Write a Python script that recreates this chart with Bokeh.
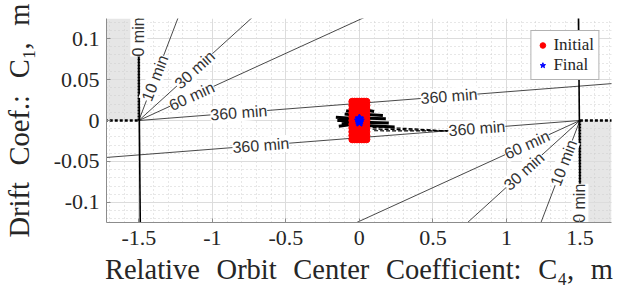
import math
import numpy as np
from bokeh.plotting import figure
from bokeh.models import FixedTicker, CustomJSTickFormatter, Range1d
from bokeh.core.properties import value
from bokeh.embed import file_html
from bokeh.resources import INLINE

# ---- axes / ticks ----
x_ticks = [-1.5, -1, -0.5, 0, 0.5, 1, 1.5]
y_ticks = [-0.1, -0.05, 0, 0.05, 0.1]
x_lim = (-1.72, 1.715)
y_lim = (-0.1245, 0.1245)

# ---- contour lines of constant time (from pivots at C4 = -1.5 and 1.5) ----
pivots = [-1.5, 1.5]
times = [10, 30, 60, 360]
slopes = [0.47, 0.163, 0.082, 0.014]
label_times = [10, 30, 60, 360, 360]
label_x_left = [-1.39, -1.12, -1.14, -0.82, 0.61]
label_x_right = [1.39, 1.12, 1.14, 0.80, -0.67]
zero_label_y = [0.102, -0.101]

# ---- shaded regions ----
shade_left = [-1.72, 1.5]
shade_right = [-1.5, 1.715]
shade_bottom = [0.0, -0.1245]
shade_top = [0.1245, 0.0]

# ---- initial conditions (red) ----
init_x_grid = [-0.048, -0.032, -0.016, 0.0, 0.016, 0.032, 0.048]
init_y_grid = [-0.023, -0.0184, -0.0138, -0.0092, -0.0046, 0.0, 0.0046,
               0.0092, 0.0138, 0.0184, 0.023]
# ---- final states (blue) ----
final_x = [-0.008, -0.004, 0.0, 0.004, 0.008, 0.0, 0.0, -0.004, 0.004]
final_y = [0.0, 0.002, 0.0, -0.002, 0.0, 0.003, -0.003, -0.002, 0.002]

# ---- trajectories (black) ----
streak_xs = [[-0.16, 0.0], [-0.15, 0.02], [-0.12, 0.0], [-0.10, 0.05],
             [-0.14, -0.02], [0.0, 0.18], [0.02, 0.20], [0.05, 0.24],
             [0.0, 0.16], [0.04, 0.10], [-0.09, -0.03]]
streak_ys = [[0.004, 0.002], [0.0, 0.0], [-0.004, -0.002], [0.008, 0.005],
             [-0.007, -0.004], [0.003, 0.002], [-0.002, -0.003], [-0.006, -0.008],
             [0.008, 0.006], [0.013, 0.011], [0.012, 0.010]]
tail_xs = [[0.09, 0.30, 0.55, 0.60], [0.09, 0.30, 0.55, 0.60], [0.10, 0.32, 0.55, 0.60]]
tail_ys = [[-0.0085, -0.0095, -0.0122, -0.0126], [-0.0105, -0.0112, -0.0124, -0.0126],
           [-0.0125, -0.0127, -0.0127, -0.0126]]
tick_y_left = [0.104, 0.108, 0.112, 0.116, 0.120]
tick_y_right = [-0.082, -0.088, -0.094, -0.100, -0.106]

FW, FH = 505, 204
SERIF = "Liberation Serif"
SANS = "Liberation Sans"
GAP = "\u00a0\u00a0\u200a"

p = figure(frame_width=FW, frame_height=FH, output_backend="svg", toolbar_location=None,
           x_range=Range1d(*x_lim), y_range=Range1d(*y_lim),
           min_border_left=104, min_border_top=18, min_border_right=2, min_border_bottom=10)
p.outline_line_color = None
p.background_fill_color = "white"

# shaded areas under grid
p.quad(left=shade_left, right=shade_right, bottom=shade_bottom, top=shade_top,
       fill_color="#e6e6e6", line_color=None, level="image")

ppx = FW / (x_lim[1] - x_lim[0])
ppy = FH / (y_lim[1] - y_lim[0])

# contour lines
for piv, sgn in zip(pivots, [1, -1]):
    for s in slopes:
        xe = piv + sgn * 4.0
        p.line([piv, xe], [0.0, s * (xe - piv)], line_color="#1a1a1a", line_width=0.8)

# labels on contour lines
slope_of = dict(zip(times, slopes))
lx, ly, lt, la = [], [], [], []
for piv, xs in zip(pivots, [label_x_left, label_x_right]):
    for t, x in zip(label_times, xs):
        s = slope_of[t]
        lx.append(x)
        ly.append(s * (x - piv))
        lt.append(f"{t} min")
        la.append(math.atan(s * ppy / ppx))
for piv, yz in zip(pivots, zero_label_y):
    lx.append(piv); ly.append(yz); lt.append("0 min"); la.append(math.pi / 2)

# vertical / horizontal boundary lines
p.line([-1.503, -1.49], [0.13, -0.13], line_color="black", line_width=1.6)
p.line([1.49, 1.503], [0.13, -0.13], line_color="black", line_width=1.6)
p.line([-1.5, -1.5], [0.0, 0.13], line_color="black", line_width=2.6, line_dash="2 1")
p.line([-1.8, -1.5], [0.0, 0.0], line_color="black", line_width=2.6, line_dash="3 2")
p.line([1.5, 1.5], [0.0, -0.13], line_color="black", line_width=2.6, line_dash="2 1")
p.line([1.5, 1.8], [0.0, 0.0], line_color="black", line_width=2.6, line_dash="3 2")
p.scatter([-1.5] * len(tick_y_left), tick_y_left, marker="dash", size=7, line_color="black", line_width=1.2)
p.scatter([1.5] * len(tick_y_right), tick_y_right, marker="dash", size=7, line_color="black", line_width=1.2)

p.text(x=lx, y=ly, text=lt, angle=la, text_align="center", text_baseline="middle",
       text_font=value(SANS), text_font_size="16px", text_color="#333333",
       background_fill_color="white")

# trajectories
p.multi_line(streak_xs, streak_ys, line_color="black", line_width=3)
p.multi_line(tail_xs, tail_ys, line_color="black", line_width=1.2, line_dash="4 2")

# initial / final
gx, gy = np.meshgrid(init_x_grid, init_y_grid)
p.scatter(gx.ravel(), gy.ravel(), marker="circle", size=7, fill_color="red",
          line_color="red", legend_label="Initial")
p.scatter(final_x, final_y, marker="star", size=8, fill_color="blue",
          line_color="blue", legend_label="Final")

# axes
p.xaxis.ticker = FixedTicker(ticks=x_ticks, minor_ticks=list(np.round(np.arange(-1.7, 1.71, 0.1), 2)))
p.yaxis.ticker = FixedTicker(ticks=y_ticks, minor_ticks=list(np.round(np.arange(-0.12, 0.121, 0.01), 3)))
p.axis.formatter = CustomJSTickFormatter(code="return (+tick.toFixed(4)).toString()")
p.axis.major_label_text_font = SERIF
p.axis.major_label_text_font_size = "22px"
p.axis.major_label_text_color = "#262626"
p.axis.axis_label_text_font = SERIF
p.axis.axis_label_text_font_size = "28.5px"
p.axis.axis_label_text_font_style = "normal"
p.axis.axis_label_text_color = "#262626"
p.axis.axis_line_color = "#8c8c8c"
p.axis.major_tick_line_color = "#8c8c8c"
p.axis.major_tick_in = 4
p.axis.major_tick_out = 0
p.axis.minor_tick_in = 0
p.axis.minor_tick_out = 0
p.xaxis.axis_label = GAP.join(["Relative", "Orbit", "Center", "Coefficient:", "C\u2084,", "m"])
p.yaxis.axis_label = GAP.join(["Drift", "Coef.:", "C\u2081,", "m"])
p.xaxis.major_label_standoff = 8
p.xaxis.axis_label_standoff = 6
p.yaxis.major_label_standoff = 7
p.yaxis.axis_label_standoff = 16

p.grid.grid_line_color = "#dcdcdc"
p.grid.minor_grid_line_color = "#cfcfcf"
p.grid.minor_grid_line_dash = "1 3"

# legend
lg = p.legend[0]
lg.location = "top_right"
lg.margin = 12
lg.padding = 4
lg.spacing = 0
lg.glyph_width = 14
lg.glyph_height = 14
lg.label_height = 18
lg.label_standoff = 4
lg.label_text_font = SERIF
lg.label_text_font_size = "17px"
lg.label_text_color = "#262626"
lg.border_line_color = "#666666"
lg.border_line_width = 1
lg.background_fill_alpha = 1.0

open("out.html", "w").write(file_html(p, INLINE))
